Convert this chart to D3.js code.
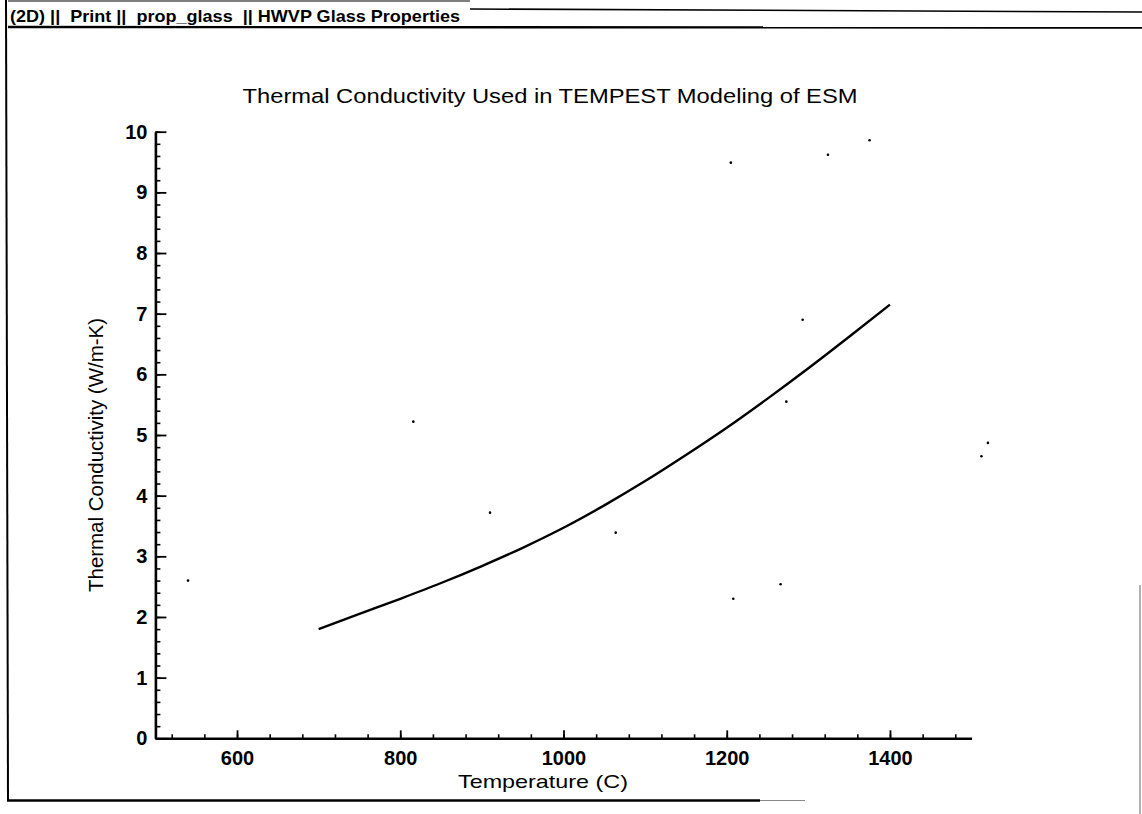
<!DOCTYPE html>
<html>
<head>
<meta charset="utf-8">
<script src="https://cdn.jsdelivr.net/npm/d3@7/dist/d3.min.js"></script>
<style>
  html, body { margin: 0; padding: 0; background: #fff; }
  svg { display: block; }
  text { font-family: "Liberation Sans", Arial, Helvetica, sans-serif; fill: #000; }
</style>
</head>
<body>
<svg id="chart" width="1142" height="814"></svg>
<script>
// ---- data ----
const headerText = "(2D) ||  Print ||  prop_glass  || HWVP Glass Properties";
const chartTitle = "Thermal Conductivity Used in TEMPEST Modeling of ESM";
const xTitle = "Temperature (C)";
const yTitle = "Thermal Conductivity (W/m-K)";

const temperature = [700, 750, 800, 850, 900, 950, 1000, 1050, 1100, 1150, 1200, 1250, 1300, 1350, 1400];
const conductivity = [1.80, 2.05, 2.30, 2.56, 2.84, 3.14, 3.47, 3.84, 4.24, 4.67, 5.12, 5.60, 6.10, 6.62, 7.15];

const xTicks = [600, 800, 1000, 1200, 1400];
const yTicks = [0, 1, 2, 3, 4, 5, 6, 7, 8, 9, 10];

// scan specks seen on the page (temperature, conductivity)
const speckT = [1205, 1324, 1375, 816, 1293, 1273, 910, 1064, 540, 1208, 1266, 1512, 1520];
const speckK = [9.49, 9.62, 9.86, 5.22, 6.90, 5.55, 3.72, 3.39, 2.60, 2.30, 2.54, 4.65, 4.87];

// ---- layout ----
const svg = d3.select("#chart");
const x = d3.scaleLinear().domain([500, 1500]).range([155.4, 971.6]);
const y = d3.scaleLinear().domain([0, 10]).range([738.3, 131.7]);

// page frame
svg.append("line").attr("x1", 8).attr("y1", 1).attr("x2", 470).attr("y2", 1)
  .attr("stroke", "#000").attr("stroke-width", 1.2);
svg.append("line").attr("x1", 470).attr("y1", 9).attr("x2", 1142).attr("y2", 12)
  .attr("stroke", "#000").attr("stroke-width", 1.6);
svg.append("line").attr("x1", 8).attr("y1", 27).attr("x2", 1142).attr("y2", 27.5)
  .attr("stroke", "#000").attr("stroke-width", 2.4);
svg.append("line").attr("x1", 6).attr("y1", 0).attr("x2", 8).attr("y2", 801)
  .attr("stroke", "#000").attr("stroke-width", 2);
svg.append("line").attr("x1", 7).attr("y1", 800.5).attr("x2", 760).attr("y2", 800.5)
  .attr("stroke", "#000").attr("stroke-width", 2.4);
svg.append("line").attr("x1", 760).attr("y1", 800.5).attr("x2", 805).attr("y2", 800.5)
  .attr("stroke", "#888").attr("stroke-width", 1.2);
svg.append("line").attr("x1", 1140).attr("y1", 585).attr("x2", 1140).attr("y2", 814)
  .attr("stroke", "#999").attr("stroke-width", 1.5);

svg.append("text")
  .attr("x", 10).attr("y", 22)
  .attr("font-size", 17).attr("font-weight", "bold")
  .attr("textLength", 450).attr("lengthAdjust", "spacingAndGlyphs")
  .style("white-space", "pre")
  .text(headerText);

// title
svg.append("text")
  .attr("x", 550).attr("y", 103)
  .attr("text-anchor", "middle")
  .attr("font-size", 20.5)
  .attr("textLength", 615).attr("lengthAdjust", "spacingAndGlyphs")
  .text(chartTitle);

// y axis: minor ticks
svg.append("g")
  .attr("transform", `translate(${x(500)},0)`)
  .call(d3.axisLeft(y).tickValues(d3.range(0, 10.001, 0.2)).tickSizeInner(-5).tickSizeOuter(0).tickFormat(""))
  .call(g => g.select(".domain").remove())
  .call(g => g.selectAll("line").attr("stroke", "#000").attr("stroke-width", 1.6));

// y axis: major ticks + labels
svg.append("g")
  .attr("transform", `translate(${x(500)},0)`)
  .call(d3.axisLeft(y).tickValues(yTicks).tickSizeInner(-11).tickSizeOuter(0).tickPadding(8).tickFormat(d3.format("d")))
  .call(g => g.select(".domain").attr("stroke", "#000").attr("stroke-width", 2.6))
  .call(g => g.selectAll("line").attr("stroke", "#000").attr("stroke-width", 1.8))
  .call(g => g.selectAll("text").attr("font-size", 20).attr("font-weight", "bold")
     .attr("font-family", "'Liberation Sans', Arial, sans-serif").attr("fill", "#000"));

// x axis: minor ticks
svg.append("g")
  .attr("transform", `translate(0,${y(0)})`)
  .call(d3.axisBottom(x).tickValues(d3.range(520, 1500, 40)).tickSizeInner(-4).tickSizeOuter(0).tickFormat(""))
  .call(g => g.select(".domain").remove())
  .call(g => g.selectAll("line").attr("stroke", "#000").attr("stroke-width", 1.6));

// x axis: major ticks + labels
svg.append("g")
  .attr("transform", `translate(0,${y(0)})`)
  .call(d3.axisBottom(x).tickValues(xTicks).tickSizeInner(-8).tickSizeOuter(0).tickPadding(13).tickFormat(d3.format("d")))
  .call(g => g.select(".domain").attr("stroke", "#000").attr("stroke-width", 2.6))
  .call(g => g.selectAll("line").attr("stroke", "#000").attr("stroke-width", 1.8))
  .call(g => g.selectAll("text").attr("font-size", 20).attr("font-weight", "bold")
     .attr("font-family", "'Liberation Sans', Arial, sans-serif").attr("fill", "#000"));

// axis titles
svg.append("text")
  .attr("x", 543).attr("y", 788)
  .attr("text-anchor", "middle")
  .attr("font-size", 19)
  .attr("textLength", 170).attr("lengthAdjust", "spacingAndGlyphs")
  .text(xTitle);

svg.append("text")
  .attr("transform", `translate(103,455) rotate(-90)`)
  .attr("text-anchor", "middle")
  .attr("font-size", 19.5)
  .attr("textLength", 274).attr("lengthAdjust", "spacingAndGlyphs")
  .text(yTitle);

// curve
const pts = temperature.map((t, i) => [t, conductivity[i]]);
svg.append("path")
  .datum(pts)
  .attr("fill", "none")
  .attr("stroke", "#000")
  .attr("stroke-width", 2.4)
  .attr("d", d3.line().x(d => x(d[0])).y(d => y(d[1])).curve(d3.curveMonotoneX));

// specks
svg.append("g").selectAll("circle")
  .data(speckT.map((t, i) => [t, speckK[i]]))
  .join("circle")
  .attr("cx", d => x(d[0])).attr("cy", d => y(d[1]))
  .attr("r", 1.3).attr("fill", "#000");
</script>
</body>
</html>
